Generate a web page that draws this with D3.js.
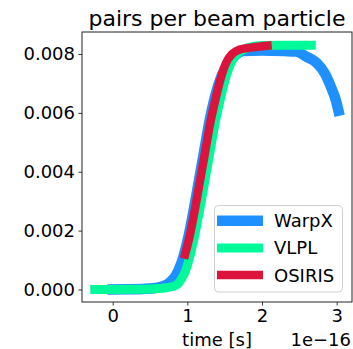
<!DOCTYPE html>
<html>
<head>
<meta charset="utf-8">
<script src="https://cdn.jsdelivr.net/npm/d3@7"></script>
<style>
html,body{margin:0;padding:0;background:#fff;}
svg{display:block;}
text{font-family:"DejaVu Sans",sans-serif;fill:#000;}
</style>
</head>
<body>
<svg id="chart" width="353" height="349"></svg>
<script>
// time in units of 1e-16 s, values = pairs per beam particle
const warpxT = [-0.07,0.2,0.4,0.55,0.65,0.72,0.78,0.84,0.89,0.94,1.015,1.085,1.155,1.225,1.295,1.365,1.435,1.505,1.58,1.66,1.75,2.0,2.3,2.46,2.6,2.73,2.85,2.92,2.98,3.04];
const warpxV = [0,0.00001,0.00002,0.00004,0.00009,0.00016,0.00028,0.00045,0.0007,0.00105,0.0018,0.0027,0.0037,0.0047,0.0057,0.0065,0.0071,0.0075,0.0078,0.0080,0.0081,0.00812,0.0081,0.00808,0.0079,0.0077,0.0073,0.0069,0.0065,0.0059];
const vlplT = [-0.3,0.4,0.6,0.72,0.8,0.86,0.92,0.97,1.025,1.095,1.165,1.235,1.305,1.375,1.445,1.515,1.585,1.665,1.8,2.0,2.3,2.72];
const vlplV = [0,0.00001,0.00003,0.00006,0.0001,0.00016,0.00035,0.0006,0.00105,0.0018,0.0027,0.0037,0.0047,0.0057,0.0065,0.0072,0.0077,0.0080,0.0082,0.00829,0.0083,0.0083];
const osirisT = [0.955,1.03,1.10,1.17,1.24,1.31,1.38,1.45,1.52,1.6,1.7,1.8,1.95,2.13];
const osirisV = [0.00105,0.0018,0.0027,0.0037,0.0047,0.0057,0.0065,0.0072,0.0077,0.0080,0.00815,0.0082,0.00825,0.0083];
const seriesNames = ["WarpX","VLPL","OSIRIS"];
const seriesColors = ["#1E90FF","#00FA9A","#DC143C"];
const xTicks = [0,1,2,3];
const yTicks = [0,0.002,0.004,0.006,0.008];
const titleText = "pairs per beam particle";
const xLabel = "time [s]";
const offsetText = "1e\u221216";

const L = 82, R = 352, T = 32, B = 302;
const svg = d3.select("#chart");
const x = d3.scaleLinear().domain([-0.411, 3.205]).range([L, R]);
const y = d3.scaleLinear().domain([-0.000425, 0.008747]).range([B, T]);

svg.append("defs").append("clipPath").attr("id","clip")
  .append("rect").attr("x",L).attr("y",T).attr("width",R-L).attr("height",B-T);

const series = [
  {name: seriesNames[0], color: seriesColors[0], w: 10.5, data: warpxT.map((t,i)=>[t,warpxV[i]])},
  {name: seriesNames[1], color: seriesColors[1], w: 9, data: vlplT.map((t,i)=>[t,vlplV[i]])},
  {name: seriesNames[2], color: seriesColors[2], w: 8.5, data: osirisT.map((t,i)=>[t,osirisV[i]])}
];
const line = d3.line().x(d=>x(d[0])).y(d=>y(d[1])).curve(d3.curveMonotoneX);
const g = svg.append("g").attr("clip-path","url(#clip)");
series.forEach(s=>{
  g.append("path").attr("d", line(s.data)).attr("fill","none")
   .attr("stroke", s.color).attr("stroke-width", s.w)
   .attr("stroke-linejoin","round").attr("stroke-linecap","butt");
});

// axes
const fs = "18px";
const xAxis = d3.axisBottom(x).tickValues(xTicks).tickFormat(d3.format("d")).tickSize(3.5).tickPadding(3.5);
const gx = svg.append("g").attr("transform",`translate(0,${B})`).call(xAxis);
gx.select(".domain").remove();
gx.selectAll("line").attr("stroke","#000").attr("stroke-width",0.8);
gx.selectAll("text").style("font-size",fs).attr("font-family","DejaVu Sans").attr("fill","#000");

const yAxis = d3.axisLeft(y).tickValues(yTicks).tickFormat(d3.format(".3f")).tickSize(3.5).tickPadding(3.5);
const gy = svg.append("g").attr("transform",`translate(${L},0)`).call(yAxis);
gy.select(".domain").remove();
gy.selectAll("line").attr("stroke","#000").attr("stroke-width",0.8);
gy.selectAll("text").style("font-size",fs).attr("font-family","DejaVu Sans").attr("fill","#000");

// frame
svg.append("rect").attr("x",L).attr("y",T).attr("width",R-L).attr("height",B-T)
  .attr("fill","none").attr("stroke","#222").attr("stroke-width",1);

// title and labels
svg.append("text").attr("x",(L+R)/2).attr("y",26).attr("text-anchor","middle")
  .style("font-size","22px").text(titleText);
svg.append("text").attr("x",(L+R)/2).attr("y",346).attr("text-anchor","middle")
  .style("font-size",fs).text(xLabel);
svg.append("text").attr("x",351).attr("y",346).attr("text-anchor","end")
  .style("font-size",fs).text(offsetText);

// legend
const lg = svg.append("g");
lg.append("rect").attr("x",214.5).attr("y",205.5).attr("width",128).attr("height",86.5)
  .attr("rx",4).attr("fill","#fff").attr("fill-opacity",0.8).attr("stroke","#d0d0d0").attr("stroke-width",1);
series.forEach((s,i)=>{
  const cy = 220.7 + i*27.2;
  lg.append("line").attr("x1",217).attr("x2",263).attr("y1",cy).attr("y2",cy)
    .attr("stroke",s.color).attr("stroke-width",s.w);
  lg.append("text").attr("x",274).attr("y",cy).attr("dy","0.36em").style("font-size",fs).text(s.name);
});
</script>
</body>
</html>
